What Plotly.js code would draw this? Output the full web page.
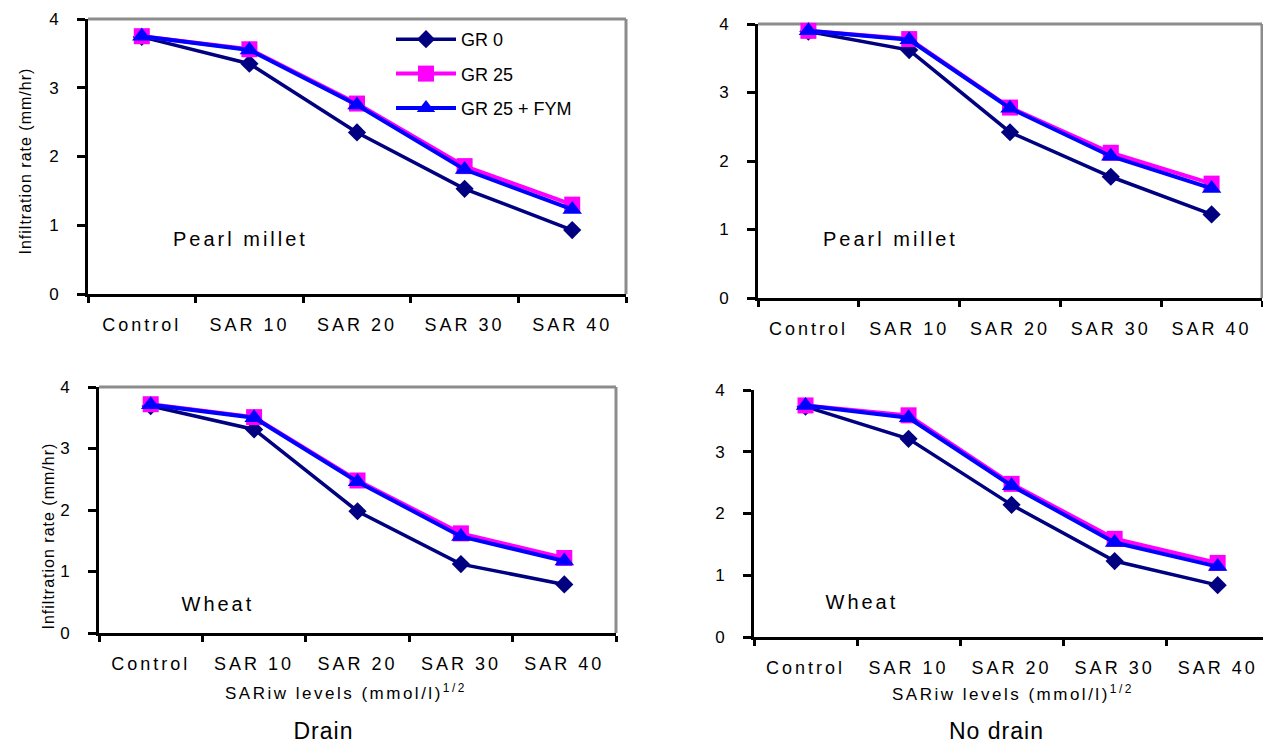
<!DOCTYPE html>
<html>
<head>
<meta charset="utf-8">
<script src="https://cdn.plot.ly/plotly-3.0.1.min.js"></script>
<style>
  html, body { margin: 0; padding: 0; background: #ffffff; }
  #chart { width: 1263px; height: 743px; }
  #chart .xtick text, #chart .x2tick text, #chart .x3tick text, #chart .x4tick text,
  #chart .annotation-text { letter-spacing: 3px; }
  #chart .annotation[data-index="0"] .annotation-text,
  #chart .annotation[data-index="1"] .annotation-text { letter-spacing: 1px; }
  #chart .annotation[data-index="6"] .annotation-text,
  #chart .annotation[data-index="7"] .annotation-text { letter-spacing: 2.5px; }
  #chart .annotation[data-index="8"] .annotation-text,
  #chart .annotation[data-index="9"] .annotation-text { letter-spacing: 1px; }
</style>
</head>
<body>
<div id="chart"></div>
<script>
// ---- data ----
const categories = ["Control", "SAR 10", "SAR 20", "SAR 30", "SAR 40"];
const seriesNames = ["GR 0", "GR 25", "GR 25 + FYM"];
const yTickValues = [0, 1, 2, 3, 4];

// Pearl millet, Drain
const pearlDrainGR0    = [3.74, 3.35, 2.35, 1.53, 0.93];
const pearlDrainGR25   = [3.75, 3.56, 2.77, 1.86, 1.30];
const pearlDrainGR25F  = [3.75, 3.55, 2.75, 1.81, 1.23];
// Pearl millet, No drain
const pearlNoDrainGR0   = [3.89, 3.62, 2.42, 1.77, 1.22];
const pearlNoDrainGR25  = [3.90, 3.78, 2.78, 2.12, 1.67];
const pearlNoDrainGR25F = [3.90, 3.77, 2.77, 2.07, 1.60];
// Wheat, Drain
const wheatDrainGR0    = [3.69, 3.31, 1.98, 1.12, 0.79];
const wheatDrainGR25   = [3.72, 3.51, 2.48, 1.62, 1.22];
const wheatDrainGR25F  = [3.71, 3.50, 2.46, 1.57, 1.17];
// Wheat, No drain
const wheatNoDrainGR0   = [3.73, 3.21, 2.14, 1.23, 0.84];
const wheatNoDrainGR25  = [3.75, 3.59, 2.48, 1.59, 1.20];
const wheatNoDrainGR25F = [3.75, 3.55, 2.45, 1.53, 1.14];

const cropLabels = ["Pearl millet", "Pearl millet", "Wheat", "Wheat"];
const yTitle = "Infiltration rate (mm/hr)";
const xTitle = "SARiw levels (mmol/l)<sup>1/2</sup>";
const drainLabels = ["Drain", "No drain"];

// ---- styling ----
const W = 1263, H = 743;
const FONT = "Liberation Sans, Arial, sans-serif";
const px = v => v / W;
const py = v => 1 - v / H;

const styles = [
  { color: "#000080", symbol: "diamond", size: 14, width: 3.5 },
  { color: "#FF00FF", symbol: "square", size: 16, width: 4 },
  { color: "#0000FF", symbol: "triangle-up", size: 17, width: 4 }
];

const panels = [
  { data: [pearlDrainGR0, pearlDrainGR25, pearlDrainGR25F], x: "x", y: "y" },
  { data: [pearlNoDrainGR0, pearlNoDrainGR25, pearlNoDrainGR25F], x: "x2", y: "y2" },
  { data: [wheatDrainGR0, wheatDrainGR25, wheatDrainGR25F], x: "x3", y: "y3" },
  { data: [wheatNoDrainGR0, wheatNoDrainGR25, wheatNoDrainGR25F], x: "x4", y: "y4" }
];

const traces = [];
panels.forEach((p, pi) => {
  p.data.forEach((vals, si) => {
    const s = styles[si];
    traces.push({
      type: "scatter",
      mode: "lines+markers",
      x: categories,
      y: vals,
      name: seriesNames[si],
      legendgroup: "g" + si,
      showlegend: pi === 0,
      xaxis: p.x,
      yaxis: p.y,
      line: { color: s.color, width: s.width },
      marker: { color: s.color, symbol: s.symbol, size: s.size, line: { width: 0 } },
      cliponaxis: false,
      hoverinfo: "x+y+name"
    });
  });
});

function xAxis(d0, d1, anchor, range) {
  return {
    domain: [px(d0), px(d1)], anchor: anchor, type: "category",
    range: range, tickson: "boundaries",
    ticks: "outside", ticklen: 6, tickwidth: 3, tickcolor: "#000",
    showline: true, linewidth: 3, linecolor: "#000",
    showgrid: false, zeroline: false,
    tickfont: { family: FONT, size: 18, color: "#000" },
    ticklabelstandoff: 12, fixedrange: true
  };
}
function yAxis(top, bottom, anchor) {
  return {
    domain: [py(bottom), py(top)], anchor: anchor,
    range: [0, 4], tickvals: yTickValues,
    ticks: "outside", ticklen: 8, tickwidth: 3, tickcolor: "#000",
    showline: true, linewidth: 3, linecolor: "#000",
    showgrid: false, zeroline: false,
    tickfont: { family: FONT, size: 17, color: "#000" },
    ticklabelstandoff: 15, fixedrange: true
  };
}

function border(xr, yr) {
  const ln = { color: "#8c8c8c", width: 3 };
  return [
    { type: "line", xref: xr + " domain", yref: yr + " domain", x0: 0, x1: 1, y0: 1, y1: 1, line: ln, layer: "below" },
    { type: "line", xref: xr + " domain", yref: yr + " domain", x0: 1, x1: 1, y0: 0, y1: 1, line: ln, layer: "below" }
  ];
}

function ann(text, x, y, size, extra) {
  return Object.assign({
    text: text, xref: "paper", yref: "paper", x: px(x), y: py(y),
    xanchor: "center", yanchor: "middle", showarrow: false,
    font: { family: FONT, size: size, color: "#000" }
  }, extra || {});
}

const annotations = [
  ann(yTitle, 26, 161, 16, { textangle: -90 }),
  ann(yTitle, 48, 536, 16, { textangle: -90 }),
  ann(cropLabels[0], 240, 239, 20),
  ann(cropLabels[1], 890, 239, 20),
  ann(cropLabels[2], 218, 604, 20),
  ann(cropLabels[3], 862, 602, 20),
  ann(xTitle, 346, 692, 17),
  ann(xTitle, 1013, 693, 17),
  ann(drainLabels[0], 323, 731, 23),
  ann(drainLabels[1], 996, 731, 23)
];

const layout = {
  width: W, height: H,
  margin: { l: 0, r: 0, t: 0, b: 0 },
  paper_bgcolor: "#ffffff", plot_bgcolor: "#ffffff",
  font: { family: FONT, color: "#000" },
  showlegend: true,
  legend: {
    x: px(391), y: py(21), xanchor: "left", yanchor: "top",
    bgcolor: "rgba(0,0,0,0)", borderwidth: 0,
    font: { family: FONT, size: 18, color: "#000" },
    itemwidth: 60,
    tracegroupgap: 8, itemclick: false, itemdoubleclick: false
  },
  xaxis:  xAxis(88, 626, "y", [-0.5, 4.5]),
  yaxis:  yAxis(19, 294, "x"),
  xaxis2: xAxis(758, 1262, "y2", [-0.5, 4.5]),
  yaxis2: yAxis(24, 298, "x2"),
  xaxis3: xAxis(99, 616, "y3", [-0.5, 4.5]),
  yaxis3: yAxis(387, 633, "x3"),
  xaxis4: xAxis(754, 1263, "y4", [-0.5, 4.44]),
  yaxis4: yAxis(390, 637, "x4"),
  shapes: [].concat(border("x", "y"), border("x2", "y2"), border("x3", "y3")),
  annotations: annotations
};

Plotly.newPlot("chart", traces, layout, { displayModeBar: false, responsive: false });
</script>
</body>
</html>
